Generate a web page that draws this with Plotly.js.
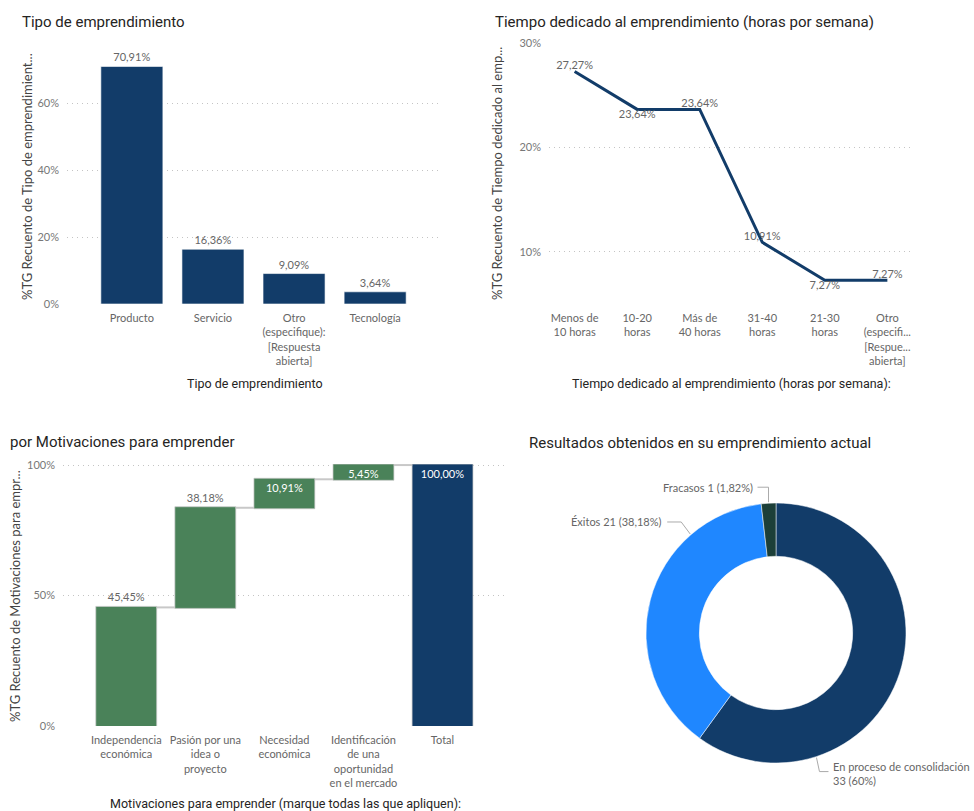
<!DOCTYPE html>
<html>
<head>
<meta charset="utf-8">
<script src="https://cdn.plot.ly/plotly-3.0.1.min.js"></script>
<style>
html,body{margin:0;padding:0;background:#fff;}
#chart{width:974px;height:811px;}
</style>
</head>
<body>
<div id="chart"></div>
<script>
// ---------- DATA ----------
const tipoCategories = ["Producto", "Servicio", "Otro<br>(especifique):<br>[Respuesta<br>abierta]", "Tecnología"];
const tipoValues = [70.91, 16.36, 9.09, 3.64];
const tipoTicks = [0, 20, 40, 60];

const tiempoCategories = ["Menos de<br>10 horas", "10-20<br>horas", "Más de<br>40 horas", "31-40<br>horas", "21-30<br>horas", "Otro<br>(especifi...<br>[Respue...<br>abierta]"];
const tiempoValues = [27.27, 23.64, 23.64, 10.91, 7.27, 7.27];
const tiempoTicks = [10, 20, 30];

const motivCategories = ["Independencia<br>económica", "Pasión por una<br>idea o<br>proyecto", "Necesidad<br>económica", "Identificación<br>de una<br>oportunidad<br>en el mercado", "Total"];
const motivValues = [45.45, 38.18, 10.91, 5.45, 100.00];
const motivMeasures = ["relative", "relative", "relative", "relative", "total"];
const motivTicks = [0, 50, 100];

const resultLabels = ["En proceso de consolidación", "Éxitos", "Fracasos"];
const resultCounts = [33, 21, 1];
const resultPercents = ["60%", "38,18%", "1,82%"];

// ---------- STYLE ----------
const W = 974, H = 811;
const NAVY = "#123C69", GREEN = "#4A8259", BLUE = "#1F87FF", DARKG = "#1C3F38";
const fTick = "Segoe UI, Lato, 'Noto Sans', sans-serif";
const fTitle = "Roboto, 'DejaVu Sans', sans-serif";
const px = x => x / W;
const py = y => 1 - y / H;
const fmt = v => v.toFixed(2).replace(".", ",") + "%";

const gridStyle = {showgrid: true, gridcolor: "#c4c4c4", griddash: "1px,4px", gridwidth: 1, zeroline: false, showline: false, ticks: "", ticklabelstandoff: 7, tickfont: {family: fTick, size: 11, color: "#777"}, fixedrange: true, tickmode: "array"};
const xStyle = {showgrid: false, zeroline: false, showline: false, ticks: "", ticklabelstandoff: 6, tickfont: {family: fTick, size: 11, color: "#666"}, fixedrange: true, type: "linear", tickmode: "array"};

const idx = a => a.map((_, i) => i);
const pct = a => a.map(v => v + "%");

// ---------- TRACES ----------
const traces = [];
traces.push({
  type: "bar", x: idx(tipoCategories), y: tipoValues, xaxis: "x", yaxis: "y",
  marker: {color: NAVY, line: {color: "rgba(255,255,255,0.6)", width: 1}},
  text: tipoValues.map(fmt), textposition: "outside", cliponaxis: false,
  textfont: {family: fTick, size: 11, color: "#666"}, hoverinfo: "skip"
});
traces.push({
  type: "scatter", mode: "lines+text", x: idx(tiempoCategories), y: tiempoValues, xaxis: "x2", yaxis: "y2",
  line: {color: NAVY, width: 3},
  text: tiempoValues.map(fmt),
  textposition: ["top center", "bottom center", "top center", "top center", "bottom center", "top center"],
  textfont: {family: fTick, size: 11, color: "#666"}, cliponaxis: false, hoverinfo: "skip"
});
traces.push({
  type: "waterfall", x: idx(motivCategories), y: motivValues, measure: motivMeasures, xaxis: "x3", yaxis: "y3",
  text: motivValues.map(fmt),
  textposition: ["outside", "outside", "inside", "inside", "inside"],
  insidetextanchor: "end", constraintext: "none",
  insidetextfont: {family: fTick, size: 11, color: "#fff"},
  outsidetextfont: {family: fTick, size: 11, color: "#666"},
  increasing: {marker: {color: GREEN, line: {color: "rgba(200,200,200,0.7)", width: 1}}},
  totals: {marker: {color: NAVY, line: {color: "rgba(200,200,200,0.7)", width: 1}}},
  connector: {mode: "between", line: {color: "#c8c8c8", width: 2}},
  cliponaxis: false, hoverinfo: "skip"
});

// donut geometry (pixels)
const cx = 776, cy = 633, R = 130;
traces.push({
  type: "pie", labels: resultLabels, values: resultCounts, hole: 0.59, sort: false,
  direction: "clockwise", rotation: 0, textinfo: "none", showlegend: false, hoverinfo: "skip",
  marker: {colors: [NAVY, BLUE, DARKG], line: {color: "#fff", width: 0.5}},
  domain: {x: [px(cx - R), px(cx + R)], y: [py(cy + R), py(cy - R)]}
});

// ---------- LAYOUT ----------
const annotations = [];
const shapes = [];
function addText(text, x, y, opts) {
  annotations.push(Object.assign({text: text, x: px(x), y: py(y), xref: "paper", yref: "paper", showarrow: false,
    xanchor: "center", yanchor: "middle", font: {family: fTick, size: 11, color: "#666"}}, opts || {}));
}
// chart titles
const titleFont = {family: fTitle, size: 15, color: "#252423"};
addText("Tipo de emprendimiento", 20, 22, {xanchor: "left", font: titleFont});
addText("Tiempo dedicado al emprendimiento (horas por semana)", 493, 22, {xanchor: "left", font: titleFont});
addText("por Motivaciones para emprender", 8, 442, {xanchor: "left", font: titleFont});
addText("Resultados obtenidos en su emprendimiento actual", 527, 443, {xanchor: "left", font: titleFont});
// axis titles
const axFont = {family: fTitle, size: 12.5, color: "#252423"};
addText("Tipo de emprendimiento", 255, 383, {font: axFont});
addText("Tiempo dedicado al emprendimiento (horas por semana):", 731, 383, {font: axFont});
addText("Motivaciones para emprender (marque todas las que apliquen):", 285, 803, {font: axFont});
const yFont = {family: fTick, size: 13, color: "#444"};
addText("%TG Recuento de Tipo de emprendimient...", 27, 177, {textangle: -90, font: yFont});
addText("%TG Recuento de Tiempo dedicado al emp...", 497, 174, {textangle: -90, font: yFont});
addText("%TG Recuento de Motivaciones para empr...", 15, 596, {textangle: -90, font: yFont});

// donut labels with leader lines
const total = resultCounts.reduce((a, b) => a + b, 0);
const anchorFrac = [0.75, 0.75, 0.5];
const leader = [
  {e: [3, 14], t: [12, 14], side: "left", dy: 2},
  {e: [-9, -12], t: [-23, -12], side: "right", dy: 0},
  {e: [0, -15], t: [-11, -15], side: "right", dy: 0}
];
let cum = 0;
resultCounts.forEach((c, i) => {
  const a0 = cum / total, a1 = (cum + c) / total;
  cum += c;
  const th = (a0 + anchorFrac[i] * (a1 - a0)) * 2 * Math.PI;
  const ax = cx + (R + 1) * Math.sin(th), ay = cy - (R + 1) * Math.cos(th);
  const L = leader[i];
  const ex = ax + L.e[0], ey = ay + L.e[1], tx = ax + L.t[0], ty = ay + L.t[1];
  shapes.push({type: "path", xref: "paper", yref: "paper",
    path: `M ${px(ax)} ${py(ay)} L ${px(ex)} ${py(ey)} L ${px(tx)} ${py(ty)}`,
    line: {color: "#aaa", width: 1}});
  const label = i === 0 ? `${resultLabels[i]}<br>${c} (${resultPercents[i]})` : `${resultLabels[i]} ${c} (${resultPercents[i]})`;
  addText(label, L.side === "left" ? tx + 3 : tx - 3, ty + L.dy, {xanchor: L.side, align: "left", font: {family: fTick, size: 11, color: "#666"}});
});

const layout = {
  width: W, height: H, margin: {l: 0, r: 0, t: 0, b: 0}, paper_bgcolor: "#fff", plot_bgcolor: "rgba(0,0,0,0)",
  showlegend: false, hovermode: false, bargap: 0.235, waterfallgap: 0.23,
  xaxis: Object.assign({}, xStyle, {domain: [px(67), px(440)], range: [-0.8, 3.8], tickvals: idx(tipoCategories), ticktext: tipoCategories, anchor: "y"}),
  yaxis: Object.assign({}, gridStyle, {domain: [py(304), py(36)], range: [0, 80], tickvals: tipoTicks, ticktext: pct(tipoTicks), anchor: "x"}),
  xaxis2: Object.assign({}, xStyle, {domain: [px(549), px(913)], range: [-0.41, 5.41], tickvals: idx(tiempoCategories), ticktext: tiempoCategories, anchor: "y2"}),
  yaxis2: Object.assign({}, gridStyle, {domain: [py(304), py(43)], range: [5, 30], tickvals: tiempoTicks, ticktext: pct(tiempoTicks), anchor: "x2"}),
  xaxis3: Object.assign({}, xStyle, {domain: [px(63), px(505)], range: [-0.8, 4.79], tickvals: idx(motivCategories), ticktext: motivCategories, anchor: "y3"}),
  yaxis3: Object.assign({}, gridStyle, {domain: [py(726), py(464)], range: [0, 100.4], tickvals: motivTicks, ticktext: pct(motivTicks), anchor: "x3"}),
  annotations: annotations, shapes: shapes
};

Plotly.newPlot("chart", traces, layout, {staticPlot: true, displayModeBar: false});
</script>
</body>
</html>
